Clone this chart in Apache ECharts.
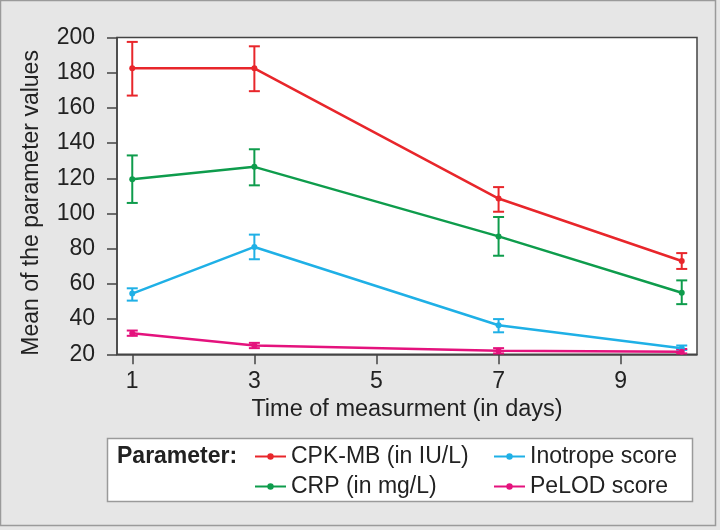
<!DOCTYPE html>
<html>
<head>
<meta charset="utf-8">
<script src="https://cdn.jsdelivr.net/npm/echarts@6/dist/echarts.min.js"></script>
<style>
  html, body { margin: 0; padding: 0; background: #e6e6e6; }
  #chart { width: 720px; height: 530px; }
</style>
</head>
<body>
<div id="chart"></div>
<script>
// days of measurement
const days = [1, 3, 7, 10];
const xTicks = [1, 3, 5, 7, 9];

// means and error bar ends
const cpkMean = [182.5, 182.5, 108.5, 73];
const cpkLow = [167, 169.5, 101, 68.5];
const cpkHigh = [197.5, 195, 115, 77.5];

const crpMean = [119.5, 126.5, 87, 55];
const crpLow = [106, 116, 76, 48.5];
const crpHigh = [133, 136.5, 98, 62];

const inoMean = [54.5, 81, 36.5, 23.5];
const inoLow = [50.5, 74, 32.5, 22.5];
const inoHigh = [57.5, 88, 40, 25];

const pelodMean = [32, 25, 22, 21.5];
const pelodLow = [30.5, 23.5, 20.5, 20.5];
const pelodHigh = [33.5, 26.5, 23.5, 23];

const font = "Liberation Sans";
const textColor = "#222";

const params = [
  { name: "CPK-MB (in IU/L)", color: "#e8262b", mean: cpkMean, low: cpkLow, high: cpkHigh },
  { name: "CRP (in mg/L)", color: "#0e9c4c", mean: crpMean, low: crpLow, high: crpHigh },
  { name: "Inotrope score", color: "#1fb0e6", mean: inoMean, low: inoLow, high: inoHigh },
  { name: "PeLOD score", color: "#e4127d", mean: pelodMean, low: pelodLow, high: pelodHigh },
];

function errorBar(color) {
  return (params, api) => {
    const x = api.value(0);
    const top = api.coord([x, api.value(2)]);
    const bot = api.coord([x, api.value(1)]);
    const half = 5.5;
    const style = { stroke: color, lineWidth: 2 };
    return {
      type: "group",
      children: [
        { type: "line", shape: { x1: top[0], y1: top[1], x2: bot[0], y2: bot[1] }, style },
        { type: "line", shape: { x1: top[0] - half, y1: top[1], x2: top[0] + half, y2: top[1] }, style },
        { type: "line", shape: { x1: bot[0] - half, y1: bot[1], x2: bot[0] + half, y2: bot[1] }, style },
      ],
    };
  };
}

const series = [];
params.forEach((p) => {
  series.push({
    name: p.name + " err",
    type: "custom",
    renderItem: errorBar(p.color),
    data: days.map((d, i) => [d, p.low[i], p.high[i]]),
    z: 2,
  });
  series.push({
    name: p.name,
    type: "line",
    data: days.map((d, i) => [d, p.mean[i]]),
    symbol: "circle",
    symbolSize: 6,
    color: p.color,
    lineStyle: { width: 2.5, color: p.color },
    itemStyle: { color: p.color },
    z: 3,
  });
});

const legendText = { fontFamily: font, fontSize: 23, color: textColor };
const legendBase = {
  orient: "vertical",
  top: 445,
  padding: 0,
  itemWidth: 31,
  itemHeight: 8,
  itemGap: 7,
  textStyle: legendText,
  selectedMode: false,
};

const chart = echarts.init(document.getElementById("chart"));
chart.setOption({
  backgroundColor: "#e6e6e6",
  animation: false,
  textStyle: { fontFamily: font },
  graphic: [
    {
      type: "rect",
      shape: { x: 0.5, y: 0.5, width: 715, height: 525 },
      style: { fill: "none", stroke: "#9a9a9a", lineWidth: 1.5 },
    },
    {
      type: "rect",
      shape: { x: 107.5, y: 438.5, width: 585, height: 63 },
      style: { fill: "#fff", stroke: "#9a9a9a", lineWidth: 1.5 },
      z: 0,
    },
    {
      type: "text",
      left: 117,
      top: 445,
      style: { text: "Parameter:", font: `bold 23px "${font}"`, fill: textColor },
    },
  ],
  grid: {
    left: 117,
    right: 23,
    top: 37.5,
    bottom: 175.7,
    show: true,
    backgroundColor: "#fff",
    borderColor: "#444",
    borderWidth: 1.5,
  },
  xAxis: {
    type: "value",
    min: 0.75,
    max: 10.25,
    name: "Time of measurment (in days)",
    nameLocation: "middle",
    nameGap: 43.5,
    nameTextStyle: { fontSize: 23.5, color: textColor, fontFamily: font },
    axisLine: { show: true, lineStyle: { color: "#444", width: 1.5 } },
    axisTick: { show: true, length: 10, customValues: xTicks, lineStyle: { color: "#444", width: 1.5 } },
    axisLabel: { customValues: xTicks, margin: 15.5, fontSize: 23, color: textColor, fontFamily: font },
    splitLine: { show: false },
  },
  yAxis: {
    type: "value",
    min: 20,
    max: 200,
    interval: 20,
    name: "Mean of the parameter values",
    nameLocation: "middle",
    nameGap: 74,
    nameTextStyle: { fontSize: 23, color: textColor, fontFamily: font, padding: [0, 14, 0, 0] },
    axisLine: { show: true, lineStyle: { color: "#444", width: 1.5 } },
    axisTick: { show: true, length: 10, lineStyle: { color: "#444", width: 1.5 } },
    axisLabel: { margin: 22, fontSize: 23, color: textColor, fontFamily: font },
    splitLine: { show: false },
  },
  legend: [
    { ...legendBase, data: [params[0].name, params[1].name], left: 254 },
    { ...legendBase, data: [params[2].name, params[3].name], left: 493 },
  ],
  series,
});
</script>
</body>
</html>
